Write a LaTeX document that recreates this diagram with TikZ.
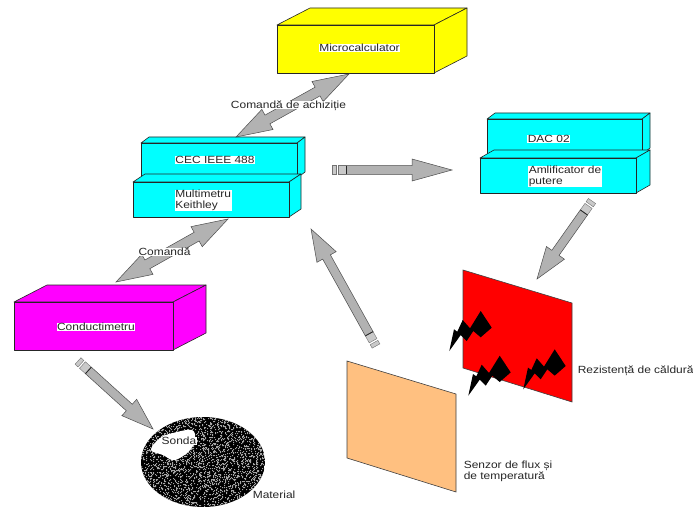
\documentclass[tikz,border=0pt]{standalone}
\usepackage{fontspec}
\setmainfont[FakeStretch=1.15]{Liberation Sans}
\usetikzlibrary{calc}

\definecolor{boxcyan}{HTML}{00FFFF}
\definecolor{boxyellow}{HTML}{FFFF00}
\definecolor{boxmagenta}{HTML}{FF00FF}
\definecolor{platered}{HTML}{FF0000}
\definecolor{plateorange}{HTML}{FFC080}
\definecolor{arrowgray}{HTML}{B2B2B2}

\tikzset{
  x=1pt, y=-1pt,
  boxedge/.style={draw=black!85, line width=0.6pt, line join=round},
  plate/.style={draw=black!75, line width=0.6pt},
  arrowbody/.style={draw=black!70, fill=arrowgray, line width=0.5pt, line join=miter},
  arrowband/.style={draw=black!55, fill=arrowgray!70, line width=0.4pt},
  label/.style={font=\fontsize{10.4}{11}\selectfont, text=black!85, inner sep=0.6pt, align=left},
  boxlabel/.style={label, fill=white},
  crosslabel/.style={label, fill=white, inner sep=0pt, text height=7.5pt, text depth=0.5pt},
}

% Box in cabinet projection: front face, top face, right face
\newcommand{\solidbox}[8]{%
  \coordinate (#1-nw) at (#2,#3);
  \coordinate (#1-se) at (#4,#5);
  \path[boxedge, fill=#8]
    (#2,#3) -- ++(#6,#7) -- ($(#4,#3)+(#6,#7)$) -- (#4,#3) -- cycle;
  \path[boxedge, fill=#8]
    (#4,#3) -- ++(#6,#7) -- ($(#4,#5)+(#6,#7)$) -- (#4,#5) -- cycle;
  \path[boxedge, fill=#8] (#1-nw) rectangle (#1-se);
}

% Point on an arrow: distance along the axis from #1 towards #2, then sideways
\newcommand{\apt}[4]{($(#1)!#3pt!(#2)!#4pt!90:(#2)$)}

% One-way block arrow from tail #1 to tip #2 with head length #3,
% with the two bands at its tail
\newcommand{\bandedarrow}[3]{%
  \path[arrowbody]
    \apt{#1}{#2}{14}{4.4} -- \apt{#2}{#1}{#3}{-4.4} -- \apt{#2}{#1}{#3}{-11}
    -- (#2) -- \apt{#2}{#1}{#3}{11} -- \apt{#2}{#1}{#3}{4.4}
    -- \apt{#1}{#2}{14}{-4.4} -- cycle;
  \path[arrowband]
    \apt{#1}{#2}{6}{4.4} -- \apt{#1}{#2}{14}{4.4}
    -- \apt{#1}{#2}{14}{-4.4} -- \apt{#1}{#2}{6}{-4.4} -- cycle;
  \path[arrowband]
    \apt{#1}{#2}{0}{4.4} -- \apt{#1}{#2}{4}{4.4}
    -- \apt{#1}{#2}{4}{-4.4} -- \apt{#1}{#2}{0}{-4.4} -- cycle;
  \draw[black!85, line width=0.8pt] \apt{#1}{#2}{14}{4.4} -- \apt{#1}{#2}{14}{-4.4};
}

% Two-way block arrow between tips #1 and #2
\newcommand{\twowayarrow}[2]{%
  \path[arrowbody]
    (#1) -- \apt{#1}{#2}{36}{11.5} -- \apt{#1}{#2}{36}{5}
    -- \apt{#2}{#1}{36}{-5} -- \apt{#2}{#1}{36}{-11.5}
    -- (#2) -- \apt{#2}{#1}{36}{11.5} -- \apt{#2}{#1}{36}{5}
    -- \apt{#1}{#2}{36}{-5} -- \apt{#1}{#2}{36}{-11.5} -- cycle;
}

% Lightning bolt, given by the position of its lower tip
\newcommand{\bolt}[2]{%
  \fill[black, shift={(#1,#2)}]
    (0,0) -- (4.7,-21.7) -- (8,-19.3) -- (13.4,-31) -- (20.7,-22.7)
    -- (31.4,-40) -- (42.4,-23.3) -- (31.4,-13.7) -- (24,-20)
    -- (17.4,-10) -- (11.4,-16) -- cycle;
}

\begin{document}
\begin{tikzpicture}
\useasboundingbox[fill=white] (0,0) rectangle (693,508);

% Instruments
\solidbox{micro}{277}{25}{434}{73}{33}{-17}{boxyellow}
\solidbox{cec}{141}{143}{297}{178}{8}{-6}{boxcyan}
\solidbox{multi}{133}{182}{289}{217}{12}{-8}{boxcyan}
\solidbox{dac}{487}{119}{642}{154}{8}{-6}{boxcyan}
\solidbox{ampl}{480}{158}{636}{193}{14}{-8}{boxcyan}
\solidbox{cond}{14}{302}{173}{350}{33}{-17}{boxmagenta}

% Heating resistor and flux sensor
\path[plate, fill=platered] (463,270) -- (572,303) -- (572,402) -- (463,368) -- cycle;
\path[plate, fill=plateorange] (347,361) -- (456,394) -- (456,492) -- (347,458) -- cycle;
\bolt{449.3}{351}
\bolt{468.3}{395.7}
\bolt{523.3}{389.3}

% Speckled material disc with the probe cavity
\begin{scope}
  \clip (203,462) ellipse [x radius=62pt, y radius=45pt];
  \fill[black] (141,417) rectangle (265,507);
  \pgfmathsetseed{7}
  \fill[black!35] foreach \i in {1,...,3000} {
    ({int(203+62*rand)},{int(462+45*rand)}) rectangle +(1,1)
  };
\end{scope}
\fill[white] plot[smooth cycle, tension=0.6] coordinates {
  (151,450) (160,438) (173,433) (192,430) (195,440)
  (190,450) (180,458) (172,460) (163,455)};

% Arrow end points
\coordinate (acqA) at (236,137);
\coordinate (acqB) at (349,74);
\coordinate (cmdA) at (116,282);
\coordinate (cmdB) at (228,219);
\coordinate (outTail) at (332,170);
\coordinate (outTip) at (452,170);
\coordinate (heatTail) at (592,201);
\coordinate (heatTip) at (537,279);
\coordinate (probeTail) at (78,361);
\coordinate (probeTip) at (153,429);
\coordinate (fluxTail) at (376,346);
\coordinate (fluxTip) at (311,229);

\twowayarrow{acqA}{acqB}
\twowayarrow{cmdA}{cmdB}
\bandedarrow{outTail}{outTip}{40}
\bandedarrow{heatTail}{heatTip}{32}
\bandedarrow{probeTail}{probeTip}{32}
\bandedarrow{fluxTail}{fluxTip}{32}

% Labels
\node[boxlabel] (lmicro) at (359.5,48) {Microcalculator};
\node[crosslabel] (lacq) at (288.5,105) {Comandă de achiziție};
\node[boxlabel] (lcec) at (215,160) {CEC IEEE 488};
\node[boxlabel, anchor=west] (lmulti) at (174.5,200.5) {Multimetru\\Keithley};
\node[boxlabel, anchor=west] (ldac) at (527,139) {DAC 02};
\node[boxlabel, anchor=west] (lampl) at (528,176.5) {Amlificator de\\putere};
\node[crosslabel] (lcmd) at (164.5,252) {Comandă};
\node[boxlabel] (lcond) at (96,327) {Conductimetru};
\node[boxlabel] (lsonda) at (179,441) {Sonda};
\node[label, anchor=west] (lmat) at (252,495) {Material};
\node[label, anchor=west] (lrez) at (577,371) {Rezistență de căldură};
\node[label, anchor=west] (lsens) at (463,471.5) {Senzor de flux și\\de temperatură};
\end{tikzpicture}
\end{document}
